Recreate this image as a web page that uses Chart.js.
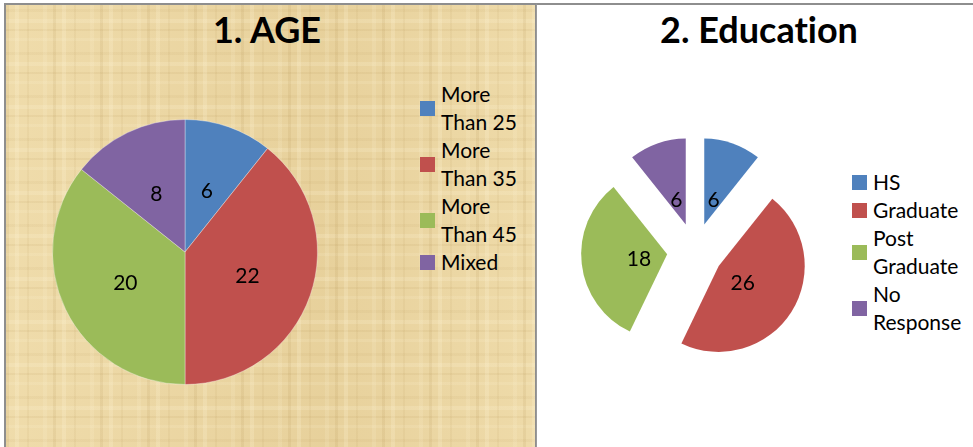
<!DOCTYPE html>
<html>
<head>
<meta charset="utf-8">
<script src="https://cdn.jsdelivr.net/npm/chart.js@4"></script>
<style>
  html, body { margin: 0; padding: 0; background: #fff; }
  body { width: 973px; height: 447px; position: relative; overflow: hidden; font-family: Lato, "Open Sans", sans-serif; font-variant-ligatures: none; }
  .panel { position: absolute; top: 3px; box-sizing: border-box; }
  #panelAge {
    left: 4px; width: 533px; height: 460px;
    border: 2px solid #8e8e8e;
    background-color: #eAd5a1;
    background-image:
      repeating-linear-gradient(90deg, rgba(150,110,40,0.09) 0 3px, rgba(0,0,0,0) 3px 9px, rgba(255,245,215,0.22) 9px 13px, rgba(0,0,0,0) 13px 21px, rgba(150,110,40,0.06) 21px 23px, rgba(0,0,0,0) 23px 37px, rgba(255,245,215,0.15) 37px 41px, rgba(0,0,0,0) 41px 47px),
      repeating-linear-gradient(0deg, rgba(150,110,40,0.07) 0 2px, rgba(0,0,0,0) 2px 8px, rgba(255,245,215,0.20) 8px 12px, rgba(0,0,0,0) 12px 19px, rgba(150,110,40,0.05) 19px 22px, rgba(0,0,0,0) 22px 33px, rgba(255,245,215,0.14) 33px 36px, rgba(0,0,0,0) 36px 43px),
      linear-gradient(90deg, rgba(255,240,200,0.25), rgba(200,160,90,0.08) 60%, rgba(255,240,200,0.2));
  }
  #panelEdu {
    left: 536px; width: 440px; height: 460px;
    border-top: 2px solid #8e8e8e; border-left: 1px solid #9a9a9a;
    background: #fff;
  }
  .title { position: absolute; top: 7px; width: 400px; text-align: center; font-weight: 700; font-size: 36px; line-height: 44px; color: #000; }
  .legend { position: absolute; font-size: 21px; line-height: 28px; color: #000; }
  .item { display: flex; align-items: center; }
  .swatch { width: 15px; height: 15px; margin-right: 6px; flex: none; }
  canvas { position: absolute; }
</style>
</head>
<body>
<div class="panel" id="panelAge"></div>
<div class="panel" id="panelEdu"></div>
<div class="title" id="titleAge" style="left:67px"></div>
<div class="title" id="titleEdu" style="left:559px"></div>
<div class="legend" id="legendAge" style="left:420px; top:80px"></div>
<div class="legend" id="legendEdu" style="left:852px; top:168px"></div>
<canvas id="chartAge" width="280" height="280" style="left:45px; top:112px"></canvas>
<canvas id="chartEdu" width="250" height="250" style="left:570px; top:126px"></canvas>
<script>
// ---- data ----
const ageTitle = "1. AGE";
const ageCategories = [["More", "Than 25"], ["More", "Than 35"], ["More", "Than 45"], ["Mixed"]];
const ageValues = [6, 22, 20, 8];

const eduTitle = "2. Education";
const eduCategories = [["HS"], ["Graduate"], ["Post", "Graduate"], ["No", "Response"]];
const eduValues = [6, 26, 18, 6];

const sliceColors = ["#4f81bd", "#c0504d", "#9bbb59", "#8064a2"];

// ---- helpers ----
function buildLegend(el, cats, colors) {
  cats.forEach((lines, i) => {
    const item = document.createElement("div");
    item.className = "item";
    const sw = document.createElement("div");
    sw.className = "swatch";
    sw.style.background = colors[i];
    const txt = document.createElement("div");
    lines.forEach(l => {
      const ln = document.createElement("div");
      ln.textContent = l;
      txt.appendChild(ln);
    });
    item.appendChild(sw);
    item.appendChild(txt);
    el.appendChild(item);
  });
}

const sliceLabels = {
  id: "sliceLabels",
  beforeDatasetDraw(chart, args, opts) {
    const d = opts.explode || 0;
    if (!d) return;
    const ctx = chart.ctx;
    args.meta.data.forEach(arc => {
      const mid = (arc.startAngle + arc.endAngle) / 2;
      ctx.save();
      ctx.translate(Math.cos(mid) * d, Math.sin(mid) * d);
      arc.draw(ctx);
      ctx.restore();
    });
    return false;
  },
  afterDatasetsDraw(chart, args, opts) {
    const ctx = chart.ctx;
    const meta = chart.getDatasetMeta(0);
    const vals = chart.data.datasets[0].data;
    ctx.save();
    ctx.font = opts.font;
    ctx.fillStyle = opts.color;
    ctx.textAlign = "center";
    ctx.textBaseline = "middle";
    meta.data.forEach((arc, i) => {
      const mid = (arc.startAngle + arc.endAngle) / 2;
      const r = (opts.explode || 0) + opts.frac * arc.outerRadius;
      ctx.fillText(String(vals[i]), arc.x + Math.cos(mid) * r, arc.y + Math.sin(mid) * r + opts.nudgeY);
    });
    ctx.restore();
  }
};

function makePie(id, cats, values, radius, explode, frac, border) {
  return new Chart(document.getElementById(id), {
    type: "pie",
    data: {
      labels: cats.map(c => c.join(" ")),
      datasets: [{
        data: values,
        backgroundColor: sliceColors,
        borderColor: border,
        borderWidth: border ? 1 : 0,
        radius: radius
      }]
    },
    options: {
      responsive: false,
      animation: false,
      events: [],
      layout: { padding: 0 },
      plugins: {
        legend: { display: false },
        title: { display: false },
        tooltip: { enabled: false },
        sliceLabels: { explode: explode, frac: frac, font: "21px Lato", color: "#000", nudgeY: 2 }
      }
    },
    plugins: [sliceLabels]
  });
}

document.getElementById("titleAge").textContent = ageTitle;
document.getElementById("titleEdu").textContent = eduTitle;
buildLegend(document.getElementById("legendAge"), ageCategories, sliceColors);
buildLegend(document.getElementById("legendEdu"), eduCategories, sliceColors);

makePie("chartAge", ageCategories, ageValues, 132.5, 0, 0.5, "rgba(255,255,255,0.35)");
makePie("chartEdu", eduCategories, eduValues, 86, 28, 0.33, null);
</script>
</body>
</html>
